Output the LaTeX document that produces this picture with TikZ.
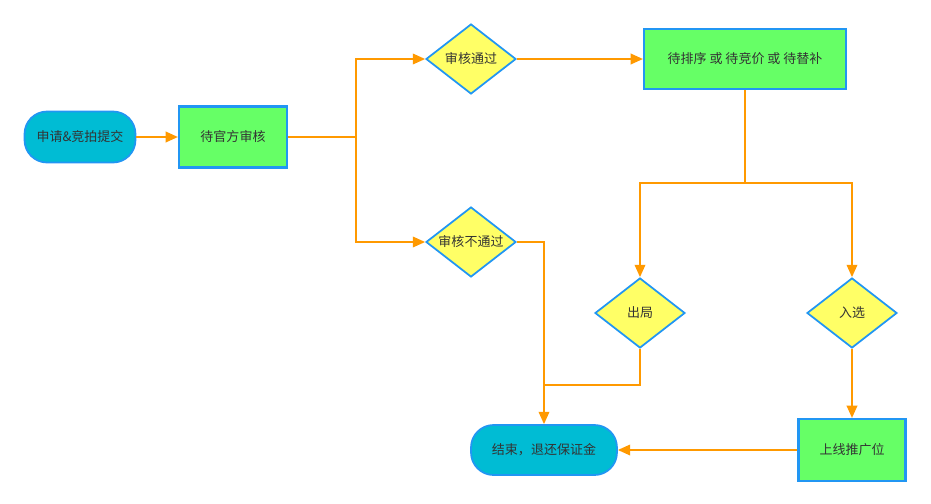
\documentclass[tikz,border=0pt]{standalone}
\usepackage{fontspec}
\setmainfont{Noto Sans CJK SC}
\usetikzlibrary{arrows.meta,positioning,shapes.geometric}
\definecolor{flowline}{RGB}{255,153,0}
\definecolor{edgeblue}{RGB}{33,150,243}
\definecolor{termcyan}{RGB}{0,188,212}
\definecolor{boxgreen}{RGB}{102,255,102}
\definecolor{askyellow}{RGB}{255,255,102}
\definecolor{inkgray}{RGB}{51,51,51}

\begin{document}
\begin{tikzpicture}[
    x=0.02cm, y=-0.02cm,
    >={Triangle[length=7pt,width=6pt]},
    font=\fontsize{7.4}{9}\selectfont,
    term/.style={
        draw=edgeblue, fill=termcyan, text=inkgray,
        line width=1pt, rounded corners=0.45cm,
        minimum height=1.02cm,
        align=center
    },
    box/.style={
        draw=edgeblue, fill=boxgreen, text=inkgray,
        line width=1.2pt,
        minimum width=2.16cm,
        minimum height=1.22cm,
        align=center
    },
    decision/.style={
        diamond, aspect=1.3, inner sep=0pt,
        draw=edgeblue, fill=askyellow, text=inkgray,
        line width=1pt,
        minimum width=1.8cm,
        minimum height=1.4cm
    },
    flow/.style={draw=flowline, line width=1.1pt, ->},
    link/.style={draw=flowline, line width=1.1pt}
]
\useasboundingbox (0,0) rectangle (931,504);

% Nodes
\node[term, minimum width=2.22cm] (apply) at (80,137) {申请\&竞拍提交};
\node[box] (audit) at (233,137) {待官方审核};
\node[decision] (pass) at (471,59) {审核通过};
\node[decision] (reject) at (471,242) {审核不通过};
\node[box, minimum width=4.04cm, minimum height=1.2cm] (queue) at (745,59) {待排序 或 待竞价 或 待替补};
\node[decision] (out) at (640,313) {出局};
\node[decision] (pick) at (852,313) {入选};
\node[box, minimum width=2.14cm, minimum height=1.24cm] (online) at (852,450) {上线推广位};
\node[term, minimum width=2.92cm, minimum height=1.0cm] (finish) at (544,450) {结束，退还保证金};

% Branch points
\coordinate (split) at (356,137);
\coordinate (fork) at (745,183);
\coordinate (join) at (544,385);

% Audit flow
\draw[flow] (apply) -- (audit);
\draw[link] (audit.east) -- (split);
\draw[flow] (split) |- (pass.west);
\draw[flow] (split) |- (reject.west);
\draw[flow] (pass) -- (queue);

% Ranking result
\draw[link] (queue.south) -- (fork);
\draw[flow] (fork) -| (out.north);
\draw[flow] (fork) -| (pick.north);
\draw[flow] (pick) -- (online);

% Back to end
\draw[flow] (reject.east) -| (finish.north);
\draw[link] (out.south) |- (join);
\draw[flow] (online) -- (finish);

\end{tikzpicture}
\end{document}
